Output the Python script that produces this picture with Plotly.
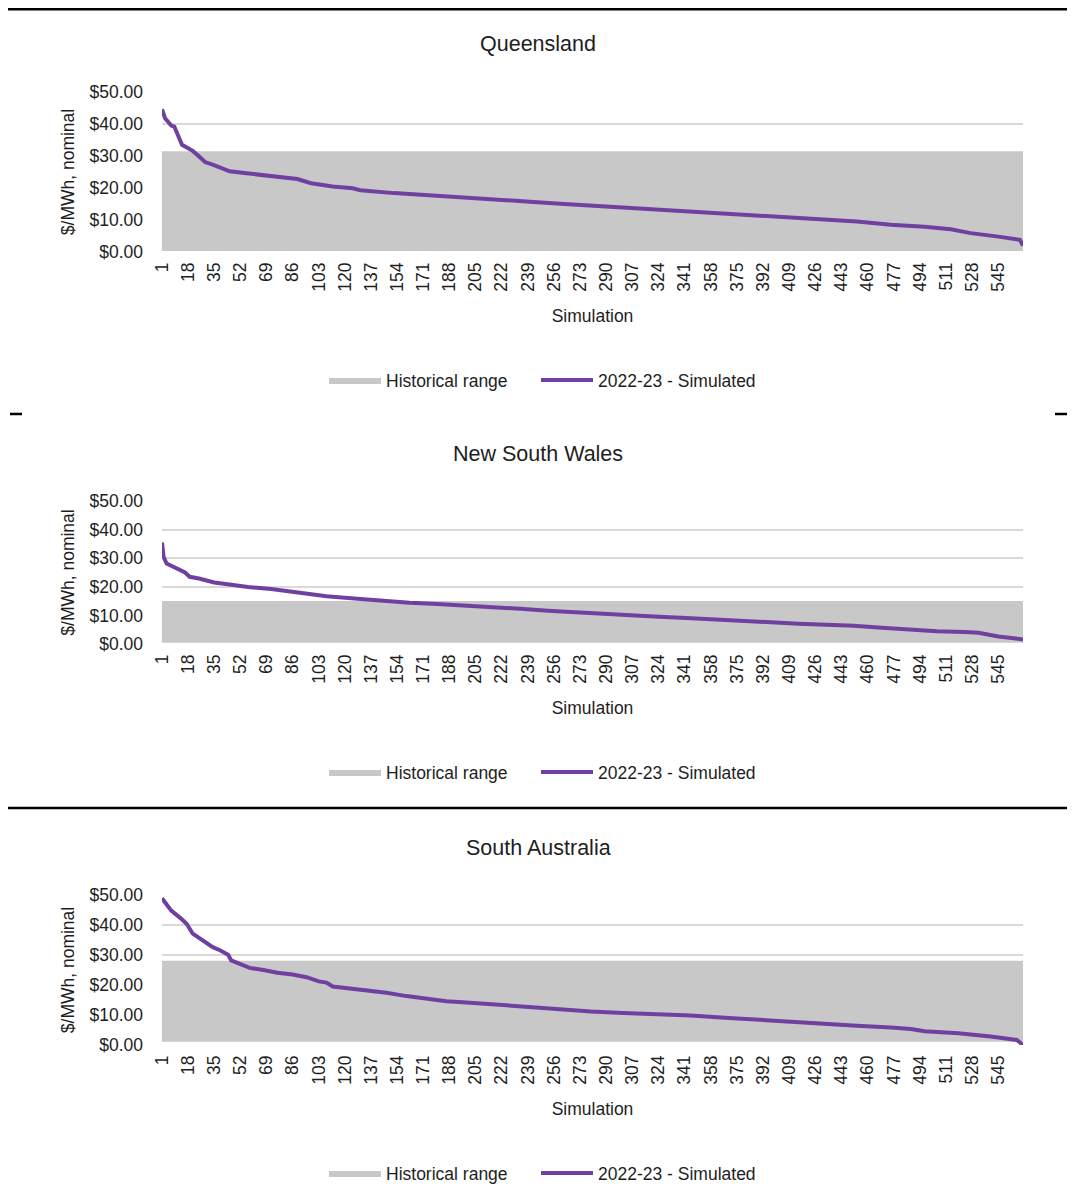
import plotly.graph_objects as go

# ---------------- data ----------------
n_sims = 561
x_tick_labels = ["1", "18", "35", "52", "69", "86", "103", "120", "137", "154", "171", "188",
                 "205", "222", "239", "256", "273", "290", "307", "324", "341", "358", "375",
                 "392", "409", "426", "443", "460", "477", "494", "511", "528", "545"]
y_tick_values = [0, 10, 20, 30, 40, 50]
y_tick_labels = ["$0.00", "$10.00", "$20.00", "$30.00", "$40.00", "$50.00"]

regions = ["Queensland", "New South Wales", "South Australia"]
hist_low = [0.3, 0.4, 1.1]
hist_high = [31.5, 15.0, 28.1]

qld_x = [1, 3, 7, 9, 14, 21, 25, 29, 34, 38, 45, 56, 71, 89, 98, 112, 125, 130, 152, 173,
         195, 217, 238, 260, 280, 301, 323, 345, 367, 388, 410, 432, 453, 475, 497, 514,
         527, 545, 559, 561]
qld_y = [44.6, 41.8, 39.5, 39.2, 33.5, 31.6, 29.9, 28.1, 27.3, 26.5, 25.2, 24.6, 23.8, 22.8,
         21.5, 20.5, 19.9, 19.3, 18.4, 17.7, 17.2, 16.2, 15.8, 15.1, 14.5, 13.9, 13.3, 12.8,
         12.1, 11.4, 10.8, 10.2, 9.5, 8.5, 7.9, 7.1, 5.9, 4.8, 3.8, 2.0]

nsw_x = [1, 2, 4, 8, 13, 16, 19, 25, 35, 46, 57, 72, 90, 108, 126, 144, 162, 180, 198, 216,
         234, 252, 270, 288, 306, 324, 342, 361, 379, 397, 415, 433, 451, 469, 487, 505, 523,
         532, 545, 561]
nsw_y = [35.5, 30.5, 28.1, 27.0, 25.8, 25.0, 23.5, 22.9, 21.5, 20.6, 19.9, 19.2, 17.8, 16.7,
         15.9, 15.0, 14.4, 14.0, 13.5, 13.0, 12.3, 11.6, 11.0, 10.5, 10.0, 9.5, 9.1, 8.5, 8.0,
         7.6, 7.1, 6.7, 6.4, 5.7, 5.0, 4.5, 4.2, 3.9, 2.6, 1.6]

sa_x = [1, 4, 7, 13, 17, 21, 28, 34, 39, 44, 46, 52, 58, 67, 76, 86, 95, 103, 108, 112, 121,
        134, 147, 160, 173, 186, 199, 217, 238, 260, 280, 301, 323, 345, 367, 388, 410, 432,
        453, 475, 488, 497, 519, 540, 557, 561]
sa_y = [48.9, 47.0, 44.8, 42.3, 40.4, 37.1, 34.6, 32.6, 31.5, 30.1, 28.2, 26.8, 25.7, 25.0,
        24.1, 23.5, 22.6, 21.2, 20.8, 19.5, 19.0, 18.4, 17.4, 16.3, 15.3, 14.6, 14.2, 13.5,
        12.7, 11.9, 11.2, 10.7, 10.3, 9.8, 9.1, 8.4, 7.5, 7.0, 6.4, 5.8, 5.3, 4.6, 3.9, 2.8,
        1.7, 0.0]

sim_x = [qld_x, nsw_x, sa_x]
sim_y = [qld_y, nsw_y, sa_y]

# ---------------- style / layout ----------------
PAGE_OFF = 8                      # default page margin around the plot div
W, H = 1075 - PAGE_OFF, 1184 - PAGE_OFF
FONT = "Liberation Sans, Arial, sans-serif"
TXT = "#1e1e1e"
GREY = "#C8C8C8"
PURPLE = "#7040A0"

# layout positions in window pixels
plot_px = [(92, 252), (501, 644), (895, 1045)]
title_px = [44, 454, 848]
legend_px = [380, 772, 1173]
legend_x_px = [324, 536]
x_left, x_right = 162, 1023


def py(p):
    return 1 - (p - PAGE_OFF) / H


def px(p):
    return (p - PAGE_OFF) / W


fig = go.Figure()
layout = dict(
    width=W, height=H,
    margin=dict(l=0, r=0, t=0, b=0, pad=0, autoexpand=False),
    paper_bgcolor="white", plot_bgcolor="white",
    font=dict(family=FONT, size=17.5, color=TXT),
    showlegend=True,
    annotations=[], shapes=[],
)

for i, region in enumerate(regions):
    sfx = "" if i == 0 else str(i + 1)
    xa, ya = "x" + sfx, "y" + sfx
    leg_hist = "legend" + ("" if i == 0 else str(2 * i + 1))
    leg_sim = "legend" + str(2 * i + 2)
    fig.add_trace(go.Scatter(
        x=[1, n_sims], y=[hist_low[i], hist_low[i]], mode="lines",
        line=dict(width=0, color=GREY), showlegend=False, hoverinfo="skip",
        xaxis=xa, yaxis=ya, legend=leg_hist))
    fig.add_trace(go.Scatter(
        x=[1, n_sims], y=[hist_high[i], hist_high[i]], mode="lines",
        line=dict(width=0, color=GREY), fill="tonexty", fillcolor=GREY,
        name="Historical range", xaxis=xa, yaxis=ya, legend=leg_hist))
    fig.add_trace(go.Scatter(
        x=sim_x[i], y=sim_y[i], mode="lines",
        line=dict(width=4, color=PURPLE),
        name="2022-23 - Simulated", xaxis=xa, yaxis=ya, legend=leg_sim))

    top, bot = plot_px[i]
    layout["xaxis" + sfx] = dict(
        domain=[px(x_left), px(x_right)], anchor=ya, automargin=False,
        range=[1, n_sims], tickmode="array",
        tickvals=[int(t) for t in x_tick_labels], ticktext=x_tick_labels,
        tickangle=-90, showgrid=False, zeroline=False, showline=False,
        ticks="", ticklabelstandoff=6,
        title=dict(text="Simulation", standoff=19, font=dict(size=17.5)),
    )
    layout["yaxis" + sfx] = dict(
        domain=[py(bot), py(top)], anchor=xa, automargin=False,
        range=[0, 50], tickmode="array", tickvals=y_tick_values, ticktext=y_tick_labels,
        showgrid=True, gridcolor="#D9D9D9", gridwidth=1.5,
        zeroline=False, showline=False, ticks="", ticklabelstandoff=18,
        title=dict(text="$/MWh, nominal", standoff=10, font=dict(size=17.5)),
    )
    layout["annotations"].append(dict(
        text=region, xref="paper", yref="paper", x=px(538), y=py(title_px[i]),
        xanchor="center", yanchor="middle", showarrow=False,
        font=dict(size=21.5, color=TXT)))
    for leg, lx in [(leg_hist, legend_x_px[0]), (leg_sim, legend_x_px[1])]:
        layout[leg] = dict(
            orientation="h", x=px(lx), y=py(legend_px[i]), xanchor="left",
            yanchor="middle", bgcolor="rgba(0,0,0,0)",
            font=dict(size=17.5, color=TXT), itemwidth=52)

# page separator rules
for (x0, x1, yy) in [(8, 1068, 9.3), (10, 22, 414), (1055, 1068, 414), (8, 1068, 808)]:
    layout["shapes"].append(dict(
        type="line", xref="paper", yref="paper",
        x0=px(x0), x1=px(x1), y0=py(yy), y1=py(yy),
        line=dict(color="black", width=2.5)))

fig.update_layout(**layout)
fig.write_html("out.html")
